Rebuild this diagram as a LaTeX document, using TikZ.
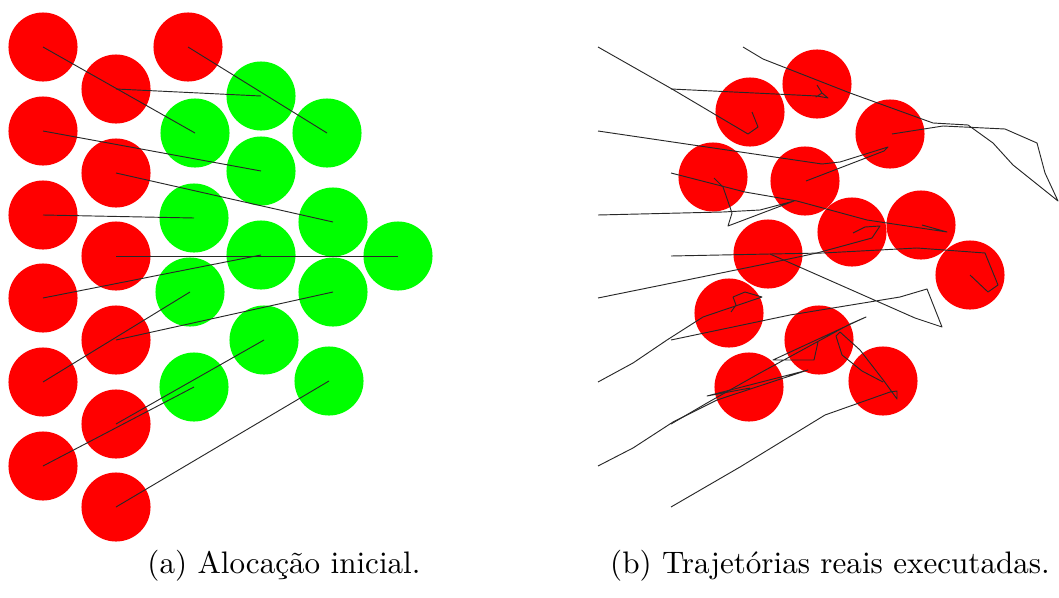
\documentclass[tikz,border=0pt]{standalone}
\definecolor{botred}{RGB}{255,0,0}
\definecolor{botgreen}{RGB}{0,255,0}
\definecolor{trajgray}{RGB}{40,40,40}
\begin{document}
\begin{tikzpicture}[x=0.3215pt,y=-0.3215pt,
  redbot/.style={circle,fill=botred,inner sep=0pt,minimum size=22.2pt},
  greenbot/.style={circle,fill=botgreen,inner sep=0pt,minimum size=22.2pt},
  link/.style={draw=trajgray,line width=0.3pt},
  trajline/.style={draw=trajgray,line width=0.3pt,line join=round},
  caption/.style={anchor=base,inner sep=0pt,font=\normalsize}]
\useasboundingbox (0,0) rectangle (1059,598);
% ---------- (a) initial allocation ----------
\node[redbot] (r1) at (43,47) {};
\node[redbot] (r2) at (188,47) {};
\node[redbot] (r3) at (116,89) {};
\node[redbot] (r4) at (43,131) {};
\node[redbot] (r5) at (116,173) {};
\node[redbot] (r6) at (43,215) {};
\node[redbot] (r7) at (116,256) {};
\node[redbot] (r8) at (43,298) {};
\node[redbot] (r9) at (116,340) {};
\node[redbot] (r10) at (43,382) {};
\node[redbot] (r11) at (116,424) {};
\node[redbot] (r12) at (43,466) {};
\node[redbot] (r13) at (116,507) {};
\node[greenbot] (g1) at (195,133) {};
\node[greenbot] (g2) at (327,133) {};
\node[greenbot] (g3) at (261,96) {};
\node[greenbot] (g4) at (261,171) {};
\node[greenbot] (g5) at (333,222) {};
\node[greenbot] (g6) at (194,218) {};
\node[greenbot] (g7) at (398,256) {};
\node[greenbot] (g8) at (261,255) {};
\node[greenbot] (g9) at (333,292) {};
\node[greenbot] (g10) at (190,292) {};
\node[greenbot] (g11) at (264,340) {};
\node[greenbot] (g12) at (194,387) {};
\node[greenbot] (g13) at (329,381) {};
\foreach \i in {1,...,13} {\draw[link] (r\i.center) -- (g\i.center);}
% ---------- (b) executed trajectories ----------
\node[redbot] (b1) at (750,112) {};
\node[redbot] (b2) at (890,134) {};
\node[redbot] (b3) at (817,84) {};
\node[redbot] (b4) at (805,181) {};
\node[redbot] (b5) at (921,225) {};
\node[redbot] (b6) at (713,177) {};
\node[redbot] (b7) at (970,275) {};
\node[redbot] (b8) at (852,232) {};
\node[redbot] (b9) at (729,313) {};
\node[redbot] (b10) at (768,254) {};
\node[redbot] (b11) at (819,340) {};
\node[redbot] (b12) at (749,387) {};
\node[redbot] (b13) at (883,381) {};
\coordinate (s1) at (598,47);
\coordinate (s2) at (743,47);
\coordinate (s3) at (671,89);
\coordinate (s4) at (598,131);
\coordinate (s5) at (671,173);
\coordinate (s6) at (598,215);
\coordinate (s7) at (671,256);
\coordinate (s8) at (598,298);
\coordinate (s9) at (598,382);
\coordinate (s10) at (671,340);
\coordinate (s11) at (671,424);
\coordinate (s12) at (598,466);
\coordinate (s13) at (671,507);
\draw[trajline] (s1) -- (672,89) -- (748,134) -- (758,127) -- (752,112);
\draw[trajline] (s2) -- (763,59) -- (850,93) -- (933,123) -- (968,125) -- (993,143) -- (1013,165) -- (1058,201) -- (1045,173) -- (1037,143) -- (1005,129) -- (943,126) -- (892,134);
\draw[trajline] (s3) -- (817,96) -- (828,98) -- (822,93) -- (816,97) -- (822,93) -- (817,85);
\draw[trajline] (s4) -- (822,164) -- (840,162) -- (888,147) -- (884,151) -- (806,181);
\draw[trajline] (s5) -- (745,192) -- (797,201) -- (867,220) -- (947,232) -- (922,225);
\draw[trajline] (s6) -- (723,212) -- (760,210) -- (794,201) -- (728,226) -- (732,213) -- (723,187) -- (714,178);
\draw[trajline] (s7) -- (770,254) -- (823,253) -- (917,248) -- (985,253) -- (998,285) -- (988,292) -- (970,275);
\draw[trajline] (s8) -- (672,283) -- (770,263) -- (817,253) -- (872,238) -- (880,226) -- (865,227) -- (853,233);
\draw[trajline] (s9) -- (633,363) -- (667,340) -- (703,317) -- (762,297) -- (745,292) -- (733,297) -- (736,305) -- (731,312);
\draw[trajline] (s10) -- (790,315) -- (900,297) -- (927,289) -- (942,327) -- (915,318) -- (770,254);
\draw[trajline] (s11) -- (707,403) -- (760,373) -- (850,324) -- (866,317) -- (773,360) -- (814,360) -- (818,342);
\draw[trajline] (s12) -- (633,448) -- (673,422) -- (717,400) -- (808,370) -- (707,396) -- (750,388);
\draw[trajline] (s13) -- (740,467) -- (825,415) -- (890,392) -- (897,391) -- (897,399) -- (884,381) -- (860,350) -- (840,332) -- (836,336) -- (842,355) -- (862,371) -- (883,382);
% ---------- captions ----------
\node[caption] (capa) at (284,573) {(a) Alocação inicial.};
\node[caption] (capb) at (830,573) {(b) Trajetórias reais executadas.};
\end{tikzpicture}
\end{document}
